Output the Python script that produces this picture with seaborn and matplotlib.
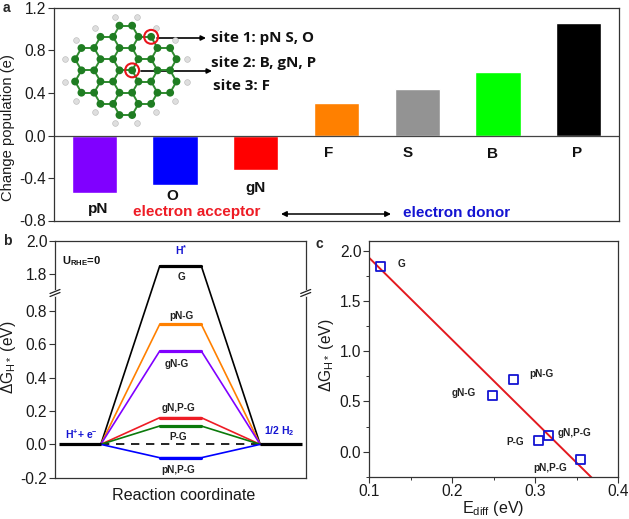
import matplotlib
matplotlib.use("Agg")
import matplotlib.pyplot as plt
import numpy as np
import pandas as pd
import seaborn as sns

W, H = 629, 519

# panel a
elements = ["pN", "O", "gN", "F", "S", "B", "P"]
charge = [-0.54, -0.47, -0.32, 0.31, 0.44, 0.60, 1.06]
bar_colors = ["#8000FF", "#0000FF", "#FF0000", "#FF8000", "#939393", "#00FF00", "#000000"]

# flake atoms: row index -> x in bond lengths
carbon_rows = {
    0: [-0.5, 0.5],
    1: [-2, -1, 1, 2],
    2: [-3.5, -2.5, -0.5, 0.5, 2.5, 3.5],
    3: [-4, -2, -1, 1, 2, 4],
    4: [-3.5, -2.5, -0.5, 0.5, 2.5, 3.5],
    5: [-4, -2, -1, 1, 2, 4],
    6: [-3.5, -2.5, -0.5, 0.5, 2.5, 3.5],
    7: [-2, -1, 1, 2],
    8: [-0.5, 0.5],
}
hydrogen_x = [-0.87, 0.9, -2.4, 2.4, -3.9, 3.9, -4.8, 4.8, -4.8, 4.8, -3.9, 3.9, -2.4, 2.4, -0.87, 0.9]
hydrogen_row = [-0.75, -0.75, 0.25, 0.25, 1.3, 1.3, 3, 3, 5, 5, 6.7, 6.7, 7.75, 7.75, 8.75, 8.75]
site_x = [2, 0.5]
site_row = [1, 4]

# panel b
systems = ["G", "pN-G", "gN-G", "gN,P-G", "P-G", "pN,P-G"]
dg_h = [1.85, 0.72, 0.56, 0.16, 0.11, -0.08]
system_colors = ["#000000", "#FF8000", "#8000FF", "#EE1C25", "#0B7A0B", "#0000FF"]
steps = [0, 1, 2]
level_halfwidth = 0.207

# panel c
e_diff = [0.114, 0.274, 0.249, 0.316, 0.304, 0.355]


def px_axes(left, top, right, bottom):
    return fig.add_axes([left / W, 1 - bottom / H, (right - left) / W, (bottom - top) / H])


def px_text(x, y, s, **kw):
    kw.setdefault("ha", "center")
    kw.setdefault("va", "center")
    return fig.text(x / W, 1 - y / H, s, **kw)


def style_axes(ax):
    for sp in ax.spines.values():
        sp.set_visible(True)
        sp.set_linewidth(0.9)
        sp.set_color("#333333")
    ax.tick_params(axis="both", which="major", direction="out", length=4, width=0.8,
                   color="#333333", labelsize=11.2, labelcolor="#1a1a1a", pad=1.5)
    ax.set_xlabel("")
    ax.set_ylabel("")


sns.set_style("ticks")
plt.rcParams["font.family"] = ["Liberation Sans", "DejaVu Sans"]
plt.rcParams["mathtext.fontset"] = "custom"
plt.rcParams["mathtext.rm"] = "Liberation Sans"
plt.rcParams["mathtext.it"] = "Liberation Sans"
plt.rcParams["mathtext.bf"] = "Liberation Sans:bold"

fig = plt.figure(figsize=(W / 100, H / 100), dpi=100)

# ---- a: charge bars
ax_a = px_axes(54, 8, 619, 220.5)
sns.barplot(x=elements, y=charge, hue=elements, palette=bar_colors, width=0.56,
            saturation=1, legend=False, ax=ax_a)
ax_a.set_xlim(-0.5, 6.5)
ax_a.set_ylim(-0.8, 1.2)
ax_a.set_yticks([-0.8, -0.4, 0, 0.4, 0.8, 1.2])
ax_a.set_yticklabels(["-0.8", "-0.4", "0.0", "0.4", "0.8", "1.2"])
ax_a.set_xticks([])
ax_a.axhline(0, color="#444444", lw=0.9)
style_axes(ax_a)

label_x = [98, 172, 256, 329, 408, 492, 577]
label_y = [209, 196, 188, 153, 153, 154, 153]
for name, lx, ly in zip(elements, label_x, label_y):
    px_text(lx, ly, name, fontsize=11, fontweight="bold", color="#111111")

px_text(8, 128, "Change population (e)", rotation=90, fontsize=10.6, color="#1a1a1a")
px_text(197, 212, "electron acceptor", fontsize=11, fontweight="bold", color="#EE1C25")
px_text(457, 213, "electron donor", fontsize=11, fontweight="bold", color="#1414D2")
ax_a.annotate("", xy=(281 / W, 1 - 214 / H), xytext=(391 / W, 1 - 214 / H),
              xycoords="figure fraction", textcoords="figure fraction",
              arrowprops=dict(arrowstyle="<|-|>", color="black", lw=1.1, mutation_scale=8,
                              shrinkA=0, shrinkB=0))

# ---- a: flake inset
ax_m = px_axes(59.9, 8.9, 191.7, 131.8)
ax_m.axis("off")
atoms = pd.DataFrame([(x, r) for r, xs in carbon_rows.items() for x in xs], columns=["x", "row"])
row_step = 0.88
for i, p in atoms.iterrows():
    for j, q in atoms.iterrows():
        if j > i and np.hypot(p.x - q.x, (p.row - q.row) * row_step) < 1.15:
            ax_m.plot([p.x, q.x], [p.row, q.row], color="#2f8a2f", lw=1.4, zorder=1)
sns.scatterplot(x=hydrogen_x, y=hydrogen_row, color="#dedede", edgecolor="#b8b8b8", linewidth=0.4,
                s=17, legend=False, ax=ax_m, zorder=2)
sns.scatterplot(data=atoms, x="x", y="row", color="#1f7d22", edgecolor="none", s=32,
                legend=False, ax=ax_m, zorder=3)
sns.scatterplot(x=site_x, y=site_row, facecolor="none", edgecolor="#E8141C", linewidth=1.5,
                s=100, legend=False, ax=ax_m, zorder=4)
ax_m.set_xlim(-5.2, 5.2)
ax_m.set_ylim(9.5, -1.5)

for y0, x0, x1 in [(38, 157, 206), (71, 141, 212)]:
    ax_a.annotate("", xy=(x1 / W, 1 - y0 / H), xytext=(x0 / W, 1 - y0 / H),
                  xycoords="figure fraction", textcoords="figure fraction",
                  arrowprops=dict(arrowstyle="-|>", color="black", lw=1.2, mutation_scale=7,
                                  shrinkA=0, shrinkB=0), zorder=6)
site_font = dict(family="Open Sans", fontweight="bold", fontsize=10.9, color="#111111", ha="left")
px_text(211, 38, "site 1: pN S, O", **site_font)
px_text(211, 63, "site 2: B, gN, P", **site_font)
px_text(213, 86, "site 3: F", **site_font)

px_text(6, 8, "a", fontsize=10, fontweight="bold")

# ---- b: free energy diagram with a broken y axis
BREAK_LOW, BREAK_HIGH = 0.91, 1.69


def squeeze(y):
    y = np.asarray(y, dtype=float)
    return np.where(y <= BREAK_LOW, y, y - (BREAK_HIGH - BREAK_LOW))


def unsqueeze(y):
    y = np.asarray(y, dtype=float)
    return np.where(y <= BREAK_LOW, y, y + (BREAK_HIGH - BREAK_LOW))


ax_b = px_axes(55, 241, 305.7, 477.7)
ax_b.set_yscale("function", functions=(squeeze, unsqueeze))
for name, val, col in zip(systems, dg_h, system_colors):
    path = pd.DataFrame({
        "x": [steps[0] + level_halfwidth, steps[1] - level_halfwidth,
              steps[1] + level_halfwidth, steps[2] - level_halfwidth],
        "y": [0, val, val, 0],
    })
    sns.lineplot(data=path, x="x", y="y", color=col, lw=1.2, sort=False, estimator=None, ax=ax_b)
    sns.lineplot(x=[steps[1] - level_halfwidth, steps[1] + level_halfwidth], y=[val, val],
                 color=col, lw=2.3, estimator=None, ax=ax_b)
for s in (steps[0], steps[2]):
    ax_b.plot([s - level_halfwidth, s + level_halfwidth], [0, 0], color="black", lw=2.3,
              solid_capstyle="butt", zorder=5)
ax_b.plot([steps[0] + level_halfwidth, steps[2] - level_halfwidth], [0, 0], color="black",
          lw=1.2, ls=(0, (5, 4)), zorder=1)
ax_b.set_xlim(-0.249, 2.246)
ax_b.set_ylim(-0.2, 2.0)
ax_b.set_yticks([-0.2, 0, 0.2, 0.4, 0.6, 0.8, 1.8, 2.0])
ax_b.set_yticklabels(["-0.2", "0.0", "0.2", "0.4", "0.6", "0.8", "1.8", "2.0"])
ax_b.set_xticks([])
ax_b.minorticks_off()
style_axes(ax_b)

# break marks on both side spines
for xb in (55, 305.7):
    fig.add_artist(plt.Line2D([xb / W, xb / W], [1 - 291 / H, 1 - 295 / H], color="white", lw=2))
    for dy in (-1.5, 1.5):
        fig.add_artist(plt.Line2D([(xb - 5) / W, (xb + 5) / W],
                                  [1 - (295 + dy) / H, 1 - (291 + dy) / H], color="#222222", lw=0.9))

small = dict(fontsize=7.2, fontweight="bold", color="#222222")
px_text(181, 277, "G", **small)
px_text(181, 316, "pN-G", **small)
px_text(177, 364, "gN-G", **small)
px_text(178, 408, "gN,P-G", **small)
px_text(178, 437, "P-G", **small)
px_text(178, 470, "pN,P-G", **small)
blue = dict(fontsize=7.5, fontweight="bold", color="#1414D2")
px_text(181, 250, r"H$\mathbf{^{*}}$", **blue)
px_text(81, 434, r"H$\mathbf{^{+}}$+ e$\mathbf{^{-}}$", **blue)
px_text(279, 431, r"1/2 H$\mathbf{_{2}}$", **blue)
px_text(82, 261, r"U$\mathbf{_{RHE}}$=0", fontsize=8, fontweight="bold", color="#111111")
px_text(184, 495, "Reaction coordinate", fontsize=11.6, color="#1a1a1a")
px_text(9, 357, r"$\Delta$G$_{\mathrm{H*}}$ (eV)", rotation=90, fontsize=11.2, color="#1a1a1a")
px_text(7, 241, "b", fontsize=10, fontweight="bold")

# ---- c: correlation with fitted line
ax_c = px_axes(369, 241, 618.3, 476.7)
ax_c.set_xlim(0.1, 0.4)
ax_c.set_ylim(-0.25, 2.1)
fit_df = pd.DataFrame({"e_diff": e_diff, "dg": dg_h})
sns.regplot(data=fit_df, x="e_diff", y="dg", scatter=False, ci=None, truncate=False,
            color="#E3191F", line_kws={"lw": 1.4}, ax=ax_c)
sns.scatterplot(data=fit_df, x="e_diff", y="dg", marker="s", facecolor="none",
                edgecolor="#1414D2", linewidth=1.3, s=42, legend=False, zorder=4, ax=ax_c)
ax_c.set_xlim(0.1, 0.4)
ax_c.set_ylim(-0.25, 2.1)
ax_c.set_xticks([0.1, 0.2, 0.3, 0.4])
ax_c.set_xticks([0.15, 0.25, 0.35], minor=True)
ax_c.set_yticks([0, 0.5, 1.0, 1.5, 2.0])
ax_c.set_yticks([-0.25, 0.25, 0.75, 1.25, 1.75], minor=True)
style_axes(ax_c)
ax_c.tick_params(axis="both", which="minor", direction="out", length=2.5, width=0.7, color="#333333")

label_pos = {"G": (402, 264), "pN-G": (541, 374), "gN-G": (464, 393),
             "gN,P-G": (575, 433), "P-G": (515, 442), "pN,P-G": (550, 468)}
for name, (lx, ly) in label_pos.items():
    px_text(lx, ly, name, **small)
px_text(493, 508, r"E$_{\mathrm{diff}}$ (eV)", fontsize=11.6, color="#1a1a1a")
px_text(326, 355, r"$\Delta$G$_{\mathrm{H*}}$ (eV)", rotation=90, fontsize=11.2, color="#1a1a1a")
px_text(319, 244, "c", fontsize=10, fontweight="bold")

fig.savefig("out.png", dpi=100)
